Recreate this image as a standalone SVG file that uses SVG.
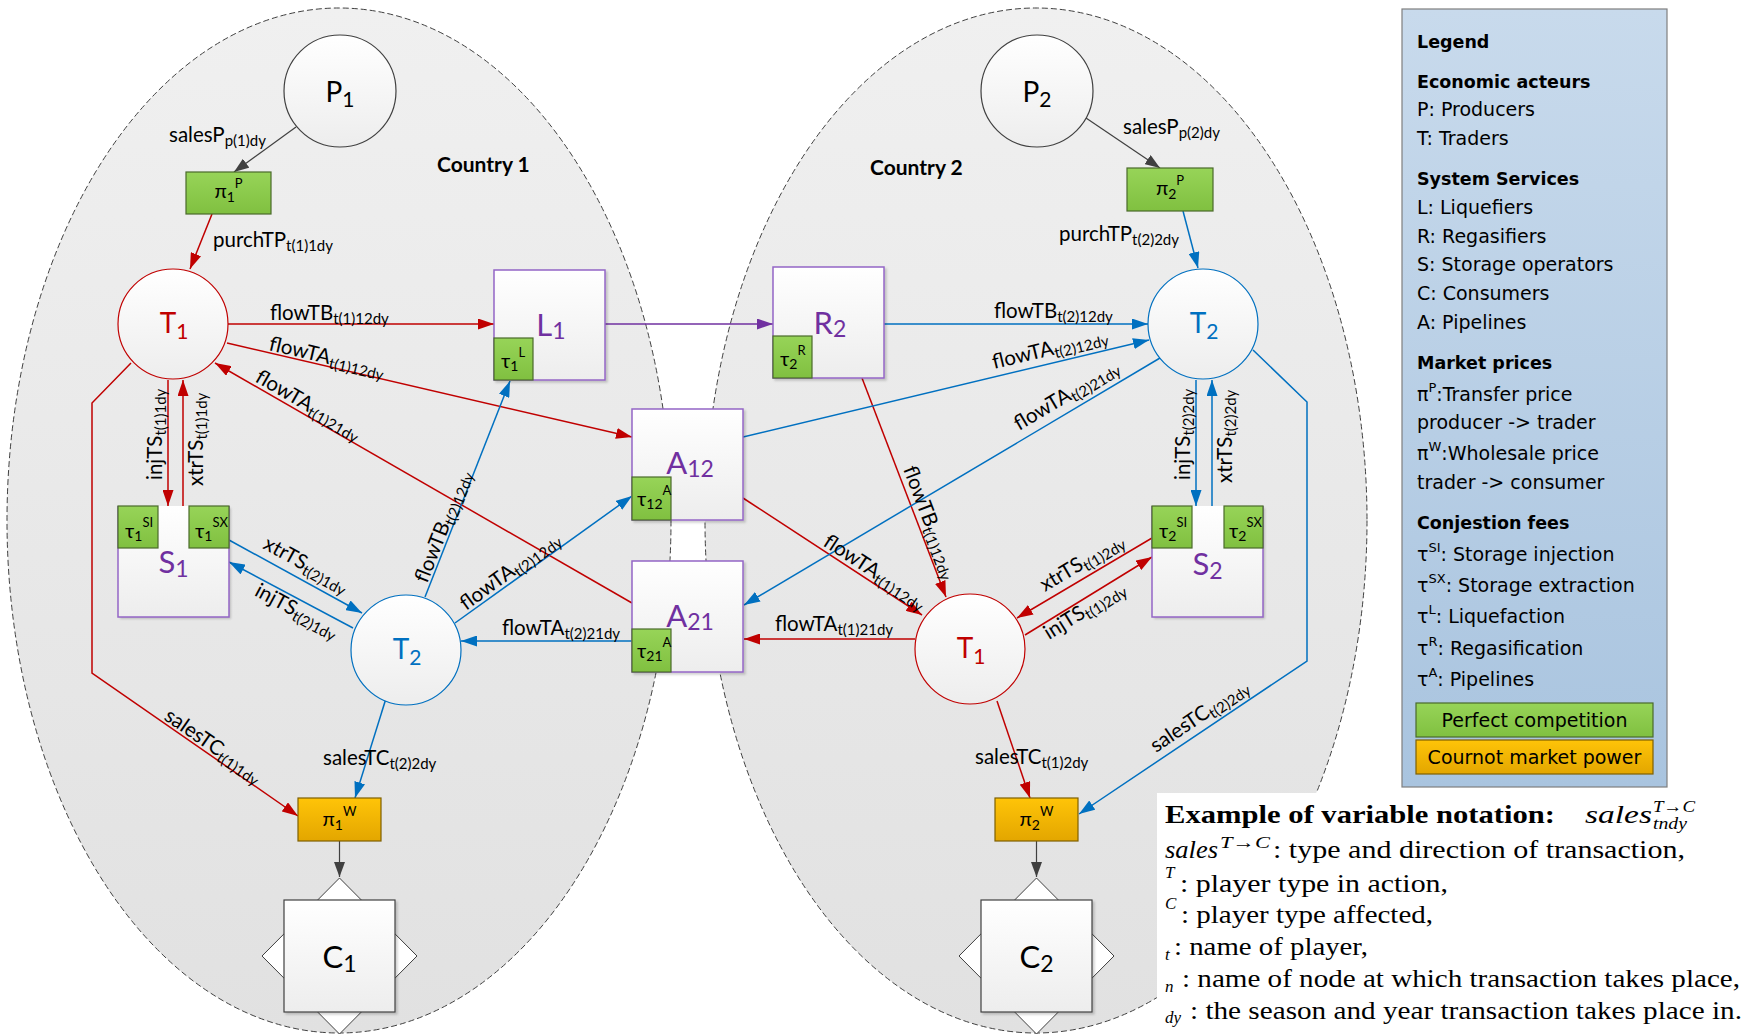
<svg xmlns="http://www.w3.org/2000/svg" width="1759" height="1035" viewBox="0 0 1759 1035">
<defs>
<linearGradient id="gEll" x1="0" y1="0" x2="0" y2="1"><stop offset="0" stop-color="#F0F0F0"/><stop offset="1" stop-color="#E1E1E1"/></linearGradient>
<linearGradient id="gNode" x1="0" y1="0" x2="0" y2="1"><stop offset="0" stop-color="#FFFFFF"/><stop offset="1" stop-color="#EDEDED"/></linearGradient>
<linearGradient id="gGreen" x1="0" y1="0" x2="0" y2="1"><stop offset="0" stop-color="#97D458"/><stop offset="1" stop-color="#80C040"/></linearGradient>
<linearGradient id="gOrange" x1="0" y1="0" x2="0" y2="1"><stop offset="0" stop-color="#FFC408"/><stop offset="1" stop-color="#E3A600"/></linearGradient>
<linearGradient id="gLeg" x1="0" y1="0" x2="0" y2="1"><stop offset="0" stop-color="#C8DAEC"/><stop offset="1" stop-color="#A9C4DF"/></linearGradient>
<filter id="sh" x="-10%" y="-10%" width="130%" height="130%"><feDropShadow dx="2" dy="2" stdDeviation="1.2" flood-color="#000" flood-opacity="0.18"/></filter>
<marker id="mR" viewBox="0 0 10 10" refX="10" refY="5" markerWidth="16" markerHeight="11" markerUnits="userSpaceOnUse" orient="auto" preserveAspectRatio="none"><path d="M0,0L10,5L0,10z" fill="#C00000"/></marker>
<marker id="mB" viewBox="0 0 10 10" refX="10" refY="5" markerWidth="16" markerHeight="11" markerUnits="userSpaceOnUse" orient="auto" preserveAspectRatio="none"><path d="M0,0L10,5L0,10z" fill="#0070C0"/></marker>
<marker id="mP" viewBox="0 0 10 10" refX="10" refY="5" markerWidth="16" markerHeight="11" markerUnits="userSpaceOnUse" orient="auto" preserveAspectRatio="none"><path d="M0,0L10,5L0,10z" fill="#7030A0"/></marker>
<marker id="mG" viewBox="0 0 10 10" refX="10" refY="5" markerWidth="15" markerHeight="11" markerUnits="userSpaceOnUse" orient="auto" preserveAspectRatio="none"><path d="M0,0L10,5L0,10z" fill="#404040"/></marker>
<style>
.ell{fill:url(#gEll);stroke:#404040;stroke-width:1;stroke-dasharray:6 3}
.cir{fill:url(#gNode);stroke-width:1.2}
.box{fill:url(#gNode);stroke:#9466C6;stroke-width:1.5;filter:url(#sh)}
.boxf{fill:url(#gNode);filter:url(#sh)}
.boxs{fill:none;stroke:#9466C6;stroke-width:1.5}
.cbox{fill:url(#gNode);stroke:#404040;stroke-width:1.2;filter:url(#sh)}
.dia{fill:#FFFFFF;stroke:#404040;stroke-width:1}
.g{fill:url(#gGreen);stroke:#4A6A2A;stroke-width:1.2}
.o{fill:url(#gOrange);stroke:#7F6000;stroke-width:1.2}
.cr{stroke:#C00000;stroke-width:1.5;fill:none;marker-end:url(#mR)}
.cb{stroke:#0070C0;stroke-width:1.5;fill:none;marker-end:url(#mB)}
.cp{stroke:#7030A0;stroke-width:1.5;fill:none;marker-end:url(#mP)}
.cg{stroke:#404040;stroke-width:1.2;fill:none;marker-end:url(#mG)}
text{font-family:Lato,"Liberation Sans","DejaVu Sans",sans-serif;fill:#000}
.lbl{font-size:20.5px}
.sub{font-size:15px}
.cty{font-size:21px;font-weight:bold}
.nP{font-size:28px}
.nPs{font-size:21px}
.nB{font-size:31px}
.nBs{font-size:23px}
.red{fill:#C00000}
.blu{fill:#0070C0}
.pur{fill:#7030A0}
.gt{font-size:20px}
.gs{font-size:14px}
.gp{font-size:13px}
.lg{font-family:"DejaVu Sans",Verdana,sans-serif;font-size:19px}
.lgb{font-family:"DejaVu Sans",Verdana,sans-serif;font-size:17.5px;font-weight:bold}
.lgs{font-size:13px}
.ex{font-family:"Liberation Serif","DejaVu Serif",serif;font-size:26px}
.exb{font-family:"Liberation Serif","DejaVu Serif",serif;font-size:26px;font-weight:bold}
.exi{font-family:"Liberation Serif","DejaVu Serif",serif;font-size:26px;font-style:italic}
.exs{font-family:"Liberation Serif","DejaVu Serif",serif;font-size:17px;font-style:italic}
</style>
</defs>
<rect width="1759" height="1035" fill="#FFFFFF"/>
<g id="country1">
<ellipse cx="339" cy="520.5" rx="332" ry="512.5" class="ell"/>
<text x="437" y="172" class="cty">Country 1</text>
</g>
<g id="country2">
<ellipse cx="1036" cy="520.5" rx="331" ry="512.5" class="ell"/>
<text x="870" y="175" class="cty">Country 2</text>
</g>
<rect id="example-bg" x="1157" y="793" width="602" height="242" fill="#FFFFFF"/>

<g id="connectors">
<line x1="296" y1="127" x2="234" y2="172" class="cg"/>
<line x1="339.5" y1="841" x2="339.5" y2="877" class="cg"/>
<line x1="1086" y1="118" x2="1160" y2="168" class="cg"/>
<line x1="1036.5" y1="841" x2="1036.5" y2="877" class="cg"/>
<line x1="212" y1="214" x2="190" y2="269" class="cr"/>
<line x1="228" y1="324" x2="494" y2="324" class="cr"/>
<line x1="227" y1="343" x2="632" y2="437" class="cr"/>
<line x1="632" y1="603" x2="215" y2="363" class="cr"/>
<line x1="168" y1="380" x2="168" y2="506" class="cr"/>
<line x1="183" y1="506" x2="183" y2="380" class="cr"/>
<polyline points="131,363 92,403 92,673 298,816" class="cr"/>
<line x1="862" y1="378" x2="946" y2="597" class="cr"/>
<line x1="743" y1="498" x2="922" y2="615" class="cr"/>
<line x1="915" y1="639" x2="744" y2="639" class="cr"/>
<line x1="1152" y1="538" x2="1017" y2="618" class="cr"/>
<line x1="1025" y1="635" x2="1152" y2="557" class="cr"/>
<line x1="997" y1="701" x2="1030" y2="798" class="cr"/>
<line x1="1183" y1="211" x2="1198" y2="268" class="cb"/>
<line x1="884" y1="324" x2="1148" y2="324" class="cb"/>
<line x1="743" y1="437" x2="1149" y2="340" class="cb"/>
<line x1="1160" y1="358" x2="744" y2="605" class="cb"/>
<line x1="1196" y1="380" x2="1196" y2="506" class="cb"/>
<line x1="1212" y1="506" x2="1212" y2="380" class="cb"/>
<polyline points="1253,350 1307,402 1307,661 1079,814" class="cb"/>
<line x1="229" y1="540" x2="362" y2="613" class="cb"/>
<line x1="353" y1="628" x2="229" y2="562" class="cb"/>
<line x1="425" y1="597" x2="510" y2="381" class="cb"/>
<line x1="455" y1="623" x2="632" y2="496" class="cb"/>
<line x1="632" y1="641" x2="461" y2="641" class="cb"/>
<line x1="385.5" y1="700" x2="355" y2="798" class="cb"/>
<line x1="605" y1="324" x2="773" y2="324" class="cp"/>

<text x="169" y="142" class="lbl">salesP<tspan class="sub" dy="4">p(1)dy</tspan></text>
<text x="213" y="247" class="lbl">purchTP<tspan class="sub" dy="4">t(1)1dy</tspan></text>
<text x="270" y="320" class="lbl">flowTB<tspan class="sub" dy="4">t(1)12dy</tspan></text>
<text class="lbl" transform="translate(268 350) rotate(13.07)">flowTA<tspan class="sub" dy="4">t(1)12dy</tspan></text>
<text class="lbl" transform="translate(254 381) rotate(29.9)">flowTA<tspan class="sub" dy="4">t(1)21dy</tspan></text>
<text class="lbl" transform="translate(162 480) rotate(-90)">injTS<tspan class="sub" dy="4">t(1)1dy</tspan></text>
<text class="lbl" transform="translate(203 486) rotate(-90)">xtrTS<tspan class="sub" dy="4">t(1)1dy</tspan></text>
<text class="lbl" transform="translate(163 719) rotate(34.6)">salesTC<tspan class="sub" dy="4">t(1)1dy</tspan></text>
<text class="lbl" transform="translate(262 548) rotate(28.6)">xtrTS<tspan class="sub" dy="4">t(2)1dy</tspan></text>
<text class="lbl" transform="translate(253.5 595) rotate(28.2)">injTS<tspan class="sub" dy="4">t(2)1dy</tspan></text>
<text class="lbl" transform="translate(427 584) rotate(-68.4)">flowTB<tspan class="sub" dy="4">t(2)12dy</tspan></text>
<text class="lbl" transform="translate(466 611) rotate(-36.1)">flowTA<tspan class="sub" dy="4">t(2)12dy</tspan></text>
<text x="502" y="635" class="lbl">flowTA<tspan class="sub" dy="4">t(2)21dy</tspan></text>
<text x="323" y="765" class="lbl">salesTC<tspan class="sub" dy="4">t(2)2dy</tspan></text>
<text x="1123" y="134" class="lbl">salesP<tspan class="sub" dy="4">p(2)dy</tspan></text>
<text x="1059" y="241" class="lbl">purchTP<tspan class="sub" dy="4">t(2)2dy</tspan></text>
<text x="994" y="318" class="lbl">flowTB<tspan class="sub" dy="4">t(2)12dy</tspan></text>
<text class="lbl" transform="translate(994 369) rotate(-13.5)">flowTA<tspan class="sub" dy="4">t(2)12dy</tspan></text>
<text class="lbl" transform="translate(1019 431) rotate(-30.8)">flowTA<tspan class="sub" dy="4">t(2)21dy</tspan></text>
<text class="lbl" transform="translate(1190 480) rotate(-90)">injTS<tspan class="sub" dy="4">t(2)2dy</tspan></text>
<text class="lbl" transform="translate(1232 483) rotate(-90)">xtrTS<tspan class="sub" dy="4">t(2)2dy</tspan></text>
<text class="lbl" transform="translate(903 469) rotate(69.2)">flowTB<tspan class="sub" dy="4">t(1)12dy</tspan></text>
<text class="lbl" transform="translate(822 545) rotate(33)">flowTA<tspan class="sub" dy="4">t(1)12dy</tspan></text>
<text x="775" y="631" class="lbl">flowTA<tspan class="sub" dy="4">t(1)21dy</tspan></text>
<text class="lbl" transform="translate(1045 592) rotate(-30.65)">xtrTS<tspan class="sub" dy="4">t(1)2dy</tspan></text>
<text class="lbl" transform="translate(1049 640) rotate(-31.8)">injTS<tspan class="sub" dy="4">t(1)2dy</tspan></text>
<text x="975" y="764" class="lbl">salesTC<tspan class="sub" dy="4">t(1)2dy</tspan></text>
<text class="lbl" transform="translate(1156 753) rotate(-34)">salesTC<tspan class="sub" dy="4">t(2)2dy</tspan></text>
</g>

<g id="P1"><circle cx="340" cy="91" r="56" class="cir" stroke="#404040"/><text x="340" y="102" class="nP" text-anchor="middle">P<tspan class="nPs" dy="5">1</tspan></text></g>
<g id="P2"><circle cx="1037" cy="91" r="56" class="cir" stroke="#404040"/><text x="1037" y="102" class="nP" text-anchor="middle">P<tspan class="nPs" dy="5">2</tspan></text></g>
<g id="pi1P"><rect x="186" y="172" width="85" height="42" class="g"/><text x="228.5" y="198" class="gt" text-anchor="middle">π<tspan class="gs" dy="4">1</tspan><tspan class="gp" dy="-14">P</tspan></text></g>
<g id="pi2P"><rect x="1127" y="168" width="86" height="43" class="g"/><text x="1170" y="195" class="gt" text-anchor="middle">π<tspan class="gs" dy="4">2</tspan><tspan class="gp" dy="-14">P</tspan></text></g>
<g id="T1-country1"><circle cx="173" cy="324" r="55" class="cir" stroke="#C00000"/><text x="174" y="333" class="nP red" text-anchor="middle">T<tspan class="nPs" dy="6">1</tspan></text></g>
<g id="T2-country2"><circle cx="1203" cy="324" r="55" class="cir" stroke="#0070C0"/><text x="1204" y="333" class="nP blu" text-anchor="middle">T<tspan class="nPs" dy="6">2</tspan></text></g>
<g id="T2-country1"><circle cx="406" cy="650" r="55" class="cir" stroke="#0070C0"/><text x="407" y="659" class="nP blu" text-anchor="middle">T<tspan class="nPs" dy="6">2</tspan></text></g>
<g id="T1-country2"><circle cx="970" cy="649" r="55" class="cir" stroke="#C00000"/><text x="971" y="658" class="nP red" text-anchor="middle">T<tspan class="nPs" dy="6">1</tspan></text></g>

<g id="L1"><rect x="494" y="270" width="111" height="110" class="box"/><rect x="494" y="338" width="39" height="42" class="g"/><text x="551" y="336" class="nB pur" text-anchor="middle">L<tspan class="nBs" dy="3">1</tspan></text><text x="501" y="368" class="gt">τ<tspan class="gs" dy="3">1</tspan><tspan class="gp" dy="-14">L</tspan></text></g>
<g id="R2"><rect x="773" y="267" width="111" height="111" class="box"/><rect x="773" y="336" width="39" height="42" class="g"/><text x="830" y="334" class="nB pur" text-anchor="middle">R<tspan class="nBs" dy="3">2</tspan></text><text x="780" y="366" class="gt">τ<tspan class="gs" dy="3">2</tspan><tspan class="gp" dy="-14">R</tspan></text></g>
<g id="A12"><rect x="632" y="409" width="111" height="111" class="box"/><rect x="632" y="477" width="39" height="43" class="g"/><text x="690" y="474" class="nB pur" text-anchor="middle">A<tspan class="nBs" dy="3">12</tspan></text><text x="637" y="506" class="gt">τ<tspan class="gs" dy="3">12</tspan><tspan class="gp" dy="-14">A</tspan></text></g>
<g id="A21"><rect x="632" y="561" width="111" height="111" class="box"/><rect x="632" y="629" width="39" height="43" class="g"/><text x="690" y="627" class="nB pur" text-anchor="middle">A<tspan class="nBs" dy="3">21</tspan></text><text x="637" y="658" class="gt">τ<tspan class="gs" dy="3">21</tspan><tspan class="gp" dy="-14">A</tspan></text></g>
<g id="S1"><rect x="118" y="506" width="111" height="111" class="boxf"/><path d="M118,506V617H229V506" class="boxs"/><rect x="118" y="506" width="40" height="42" class="g"/><rect x="189" y="506" width="40" height="42" class="g"/><text x="173.5" y="573" class="nB pur" text-anchor="middle">S<tspan class="nBs" dy="4">1</tspan></text><text x="125" y="538" class="gt">τ<tspan class="gs" dy="3">1</tspan><tspan class="gp" dy="-14">SI</tspan></text><text x="195" y="538" class="gt">τ<tspan class="gs" dy="3">1</tspan><tspan class="gp" dy="-14">SX</tspan></text></g>
<g id="S2"><rect x="1152" y="506" width="111" height="111" class="boxf"/><path d="M1152,506V617H1263V506" class="boxs"/><rect x="1152" y="506" width="40" height="42" class="g"/><rect x="1224" y="506" width="39" height="42" class="g"/><text x="1207.5" y="575" class="nB pur" text-anchor="middle">S<tspan class="nBs" dy="4">2</tspan></text><text x="1159" y="538" class="gt">τ<tspan class="gs" dy="3">2</tspan><tspan class="gp" dy="-14">SI</tspan></text><text x="1229" y="538" class="gt">τ<tspan class="gs" dy="3">2</tspan><tspan class="gp" dy="-14">SX</tspan></text></g>
<g id="pi1W"><rect x="298" y="798" width="83" height="43" class="o"/><text x="339.5" y="826" class="gt" text-anchor="middle">π<tspan class="gs" dy="4">1</tspan><tspan class="gp" dy="-14">W</tspan></text></g>
<g id="pi2W"><rect x="995" y="798" width="83" height="43" class="o"/><text x="1036.5" y="826" class="gt" text-anchor="middle">π<tspan class="gs" dy="4">2</tspan><tspan class="gp" dy="-14">W</tspan></text></g>
<g id="C1"><polygon points="339.5,878 417,956 339.5,1034 262,956" class="dia"/><rect x="284" y="900" width="111" height="112" class="cbox"/><text x="339.5" y="968" class="nB" text-anchor="middle">C<tspan class="nBs" dy="4">1</tspan></text></g>
<g id="C2"><polygon points="1036.5,878 1114,956 1036.5,1034 959,956" class="dia"/><rect x="981" y="900" width="111" height="112" class="cbox"/><text x="1036.5" y="968" class="nB" text-anchor="middle">C<tspan class="nBs" dy="4">2</tspan></text></g>

<g id="legend">
<rect x="1402" y="9" width="265" height="778" fill="url(#gLeg)" stroke="#7F7F7F" stroke-width="1.2"/>
<text x="1417" y="48" class="lgb">Legend</text>
<text x="1417" y="88" class="lgb">Economic acteurs</text>
<text x="1417" y="116" class="lg">P: Producers</text>
<text x="1417" y="145" class="lg">T: Traders</text>
<text x="1417" y="185" class="lgb">System Services</text>
<text x="1417" y="214" class="lg">L: Liquefiers</text>
<text x="1417" y="243" class="lg">R: Regasifiers</text>
<text x="1417" y="271" class="lg">S: Storage operators</text>
<text x="1417" y="300" class="lg">C: Consumers</text>
<text x="1417" y="329" class="lg">A: Pipelines</text>
<text x="1417" y="369" class="lgb">Market prices</text>
<text x="1417" y="401" class="lg">π<tspan class="lgs" dy="-9">P</tspan><tspan dy="9">:Transfer price</tspan></text>
<text x="1417" y="429" class="lg">producer -&gt; trader</text>
<text x="1417" y="460" class="lg">π<tspan class="lgs" dy="-9">W</tspan><tspan dy="9">:Wholesale price</tspan></text>
<text x="1417" y="489" class="lg">trader -&gt; consumer</text>
<text x="1417" y="529" class="lgb">Conjestion fees</text>
<text x="1417" y="561" class="lg">τ<tspan class="lgs" dy="-9">SI</tspan><tspan dy="9">: Storage injection</tspan></text>
<text x="1417" y="592" class="lg">τ<tspan class="lgs" dy="-9">SX</tspan><tspan dy="9">: Storage extraction</tspan></text>
<text x="1417" y="623" class="lg">τ<tspan class="lgs" dy="-9">L</tspan><tspan dy="9">: Liquefaction</tspan></text>
<text x="1417" y="655" class="lg">τ<tspan class="lgs" dy="-9">R</tspan><tspan dy="9">: Regasification</tspan></text>
<text x="1417" y="686" class="lg">τ<tspan class="lgs" dy="-9">A</tspan><tspan dy="9">: Pipelines</tspan></text>
<rect x="1416" y="703" width="237" height="34" class="g" stroke="#5A5A5A"/>
<text x="1534.5" y="727" class="lg" text-anchor="middle">Perfect competition</text>
<rect x="1416" y="740" width="237" height="34" class="o"/>
<text x="1534.5" y="764" class="lg" text-anchor="middle">Cournot market power</text>
</g>

<g id="example">
<text x="1165" y="823" class="exb" textLength="390" lengthAdjust="spacingAndGlyphs">Example of variable notation:</text>
<text x="1585" y="823" class="exi" textLength="67" lengthAdjust="spacingAndGlyphs">sales</text>
<text x="1653" y="812" class="exs" textLength="42" lengthAdjust="spacingAndGlyphs">T→C</text>
<text x="1653" y="829" class="exs" textLength="34" lengthAdjust="spacingAndGlyphs">tndy</text>
<text x="1165" y="858" class="exi" textLength="53" lengthAdjust="spacingAndGlyphs">sales</text>
<text x="1220" y="848" class="exs" textLength="50" lengthAdjust="spacingAndGlyphs">T→C</text>
<text x="1273" y="858" class="ex" textLength="412" lengthAdjust="spacingAndGlyphs">: type and direction of transaction,</text>
<text x="1165" y="878" class="exs">T</text>
<text x="1180" y="892" class="ex" textLength="268" lengthAdjust="spacingAndGlyphs">: player type in action,</text>
<text x="1165" y="909" class="exs">C</text>
<text x="1181" y="923" class="ex" textLength="252" lengthAdjust="spacingAndGlyphs">: player type affected,</text>
<text x="1165" y="960" class="exs">t</text>
<text x="1174" y="955" class="ex" textLength="194" lengthAdjust="spacingAndGlyphs">: name of player,</text>
<text x="1165" y="992" class="exs">n</text>
<text x="1182" y="987" class="ex" textLength="558" lengthAdjust="spacingAndGlyphs">: name of node at which transaction takes place,</text>
<text x="1165" y="1023" class="exs">dy</text>
<text x="1190" y="1019" class="ex" textLength="552" lengthAdjust="spacingAndGlyphs">: the season and year transaction takes place in.</text>
</g>
</svg>
